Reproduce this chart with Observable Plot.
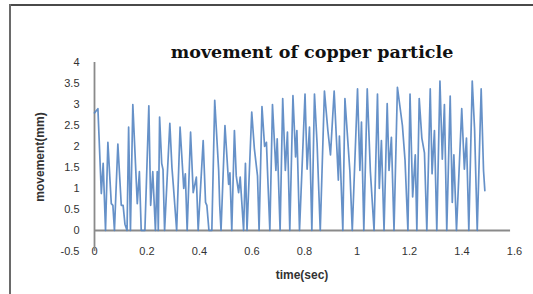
<!DOCTYPE html>
<html>
<head>
<meta charset="utf-8">
<script src="https://cdn.jsdelivr.net/npm/d3@7"></script>
<script src="https://cdn.jsdelivr.net/npm/@observablehq/plot@0.6"></script>
<style>
  html, body { margin: 0; padding: 0; background: #fff; }
  body { width: 533px; height: 294px; overflow: hidden; position: relative; font-family: "Liberation Sans", Arial, sans-serif; }
  #chart { position: absolute; left: 0; top: 0; }
  .frameTop { position: absolute; left: 9px; top: 4px; width: 524px; height: 2px; background: #4a4a4a; }
  .frameLeft { position: absolute; left: 9px; top: 4px; width: 1.5px; height: 290px; background: #6a6a6a; }
  .title { position: absolute; left: 312px; top: 44px; transform: translateX(-50%); white-space: nowrap;
           font-family: "DejaVu Serif", serif; font-weight: bold; font-size: 17.5px; line-height: 17px; color: #111; }
  .xlabel { position: absolute; left: 302px; top: 268px; transform: translateX(-50%); white-space: nowrap;
            font-weight: bold; font-size: 12px; line-height: 14px; color: #333; }
  .ylabel { position: absolute; left: 40px; top: 157px; transform: translate(-50%, -50%) rotate(-90deg); white-space: nowrap;
            font-weight: bold; font-size: 12px; line-height: 14px; color: #333; }
</style>
</head>
<body>
<div class="frameTop"></div>
<div class="frameLeft"></div>
<div class="title">movement of copper particle</div>
<div id="chart"></div>
<div class="xlabel">time(sec)</div>
<div class="ylabel">movement(mm)</div>
<script>
// time (sec)
const times = [
  0, 0.013, 0.026, 0.033, 0.042, 0.051, 0.064, 0.070, 0.076, 0.089,
  0.102, 0.109, 0.116, 0.124, 0.130, 0.137, 0.146, 0.163, 0.171, 0.178,
  0.192, 0.207, 0.214, 0.222, 0.232, 0.239, 0.243, 0.248, 0.256, 0.261,
  0.267, 0.287, 0.295, 0.300, 0.313, 0.326, 0.340, 0.346, 0.353, 0.366,
  0.376, 0.388, 0.395, 0.414, 0.423, 0.428, 0.436, 0.447, 0.458, 0.473,
  0.477, 0.482, 0.497, 0.511, 0.516, 0.523, 0.533, 0.540, 0.549, 0.555,
  0.568, 0.575, 0.581, 0.599, 0.609, 0.621, 0.627, 0.638, 0.648, 0.655,
  0.659, 0.668, 0.678, 0.691, 0.696, 0.707, 0.717, 0.727, 0.735, 0.744,
  0.756, 0.766, 0.771, 0.781, 0.802, 0.810, 0.819, 0.828, 0.838, 0.848,
  0.860, 0.876, 0.889, 0.899, 0.913, 0.929, 0.933, 0.946, 0.954, 0.973,
  0.982, 1.002, 1.011, 1.017, 1.026, 1.039, 1.051, 1.065, 1.078, 1.085,
  1.093, 1.103, 1.115, 1.122, 1.131, 1.141, 1.154, 1.173, 1.183, 1.194,
  1.202, 1.212, 1.222, 1.228, 1.237, 1.247, 1.257, 1.266, 1.279, 1.286,
  1.295, 1.304, 1.316, 1.325, 1.333, 1.342, 1.355, 1.363, 1.369, 1.379,
  1.399, 1.409, 1.417, 1.426, 1.439, 1.448, 1.458, 1.473, 1.482, 1.487
];
// movement (mm)
const movement = [
  2.8, 2.9, 0.88, 1.6, 0, 2.1, 0.64, 0.6, 0, 2.06,
  0.6, 0.6, 0.15, 0, 2.46, 0, 3.0, 0.64, 1.4, 0,
  0, 2.97, 0.6, 1.4, 0, 1.4, 0, 2.7, 1.6, 1.45,
  0, 2.55, 1.5, 1.1, 0, 2.46, 1.0, 1.35, 0, 2.34,
  0.9, 1.27, 0, 2.14, 0.67, 0.6, 0, 0, 3.1, 1.43,
  0.6, 0, 2.5, 1.1, 1.37, 0, 2.38, 1.3, 0.9, 1.27,
  0, 1.6, 0, 2.82, 1.95, 1.3, 0, 2.95, 2.0, 2.1,
  1.43, 0, 3.0, 1.43, 2.18, 0, 3.14, 1.43, 2.34, 0,
  3.21, 1.75, 2.38, 0, 3.25, 1.46, 2.46, 0, 3.25, 2.06,
  0, 3.32, 2.38, 1.8, 3.32, 1.2, 2.25, 0, 3.14, 1.4,
  0, 3.37, 1.43, 2.58, 0, 3.37, 1.4, 0, 3.25, 1.0,
  2.14, 0, 3.02, 1.43, 2.22, 0, 3.41, 2.5, 1.67, 0,
  3.25, 0.8, 1.8, 0, 3.14, 2.2, 1.85, 0, 3.37, 1.35,
  2.38, 0, 3.56, 1.7, 3.0, 0, 3.2, 0.67, 1.8, 0,
  2.9, 1.46, 2.2, 0, 3.56, 2.4, 0, 3.37, 1.43, 0.95
];
const xTicks = [0, 0.2, 0.4, 0.6, 0.8, 1, 1.2, 1.4, 1.6];
const xTickLabels = ["0", "0.2", "0.4", "0.6", "0.8", "1", "1.2", "1.4", "1.6"];
const yTicks = [-0.5, 0, 0.5, 1, 1.5, 2, 2.5, 3, 3.5, 4];
const yTickLabels = ["-0.5", "0", "0.5", "1", "1.5", "2", "2.5", "3", "3.5", "4"];

const data = times.map((t, i) => ({t, v: movement[i]}));

const chart = Plot.plot({
  width: 533,
  height: 294,
  marginLeft: 94,
  marginRight: 19,
  marginTop: 62,
  marginBottom: 43,
  style: {fontSize: "11px", fontFamily: "Liberation Sans, Arial, sans-serif", color: "#333", background: "transparent"},
  x: {domain: [0, 1.6], ticks: xTicks, tickFormat: d => xTickLabels[xTicks.indexOf(d)], tickSize: 0, tickPadding: -4, label: null},
  y: {domain: [-0.5, 4], ticks: yTicks, tickFormat: d => yTickLabels[yTicks.indexOf(d)], tickSize: 0, tickPadding: 15, label: null},
  marks: [
    Plot.ruleX([0], {y1: -0.5, y2: 4, stroke: "#8a8a8a", strokeWidth: 1.8}),
    Plot.ruleY([0], {x1: 0, x2: 1.585, stroke: "#8a8a8a", strokeWidth: 1.8}),
    Plot.line(data, {x: "t", y: "v", stroke: "#5585c2", strokeWidth: 1.7, strokeOpacity: 0.9})
  ]
});
document.getElementById("chart").appendChild(chart);
</script>
</body>
</html>
